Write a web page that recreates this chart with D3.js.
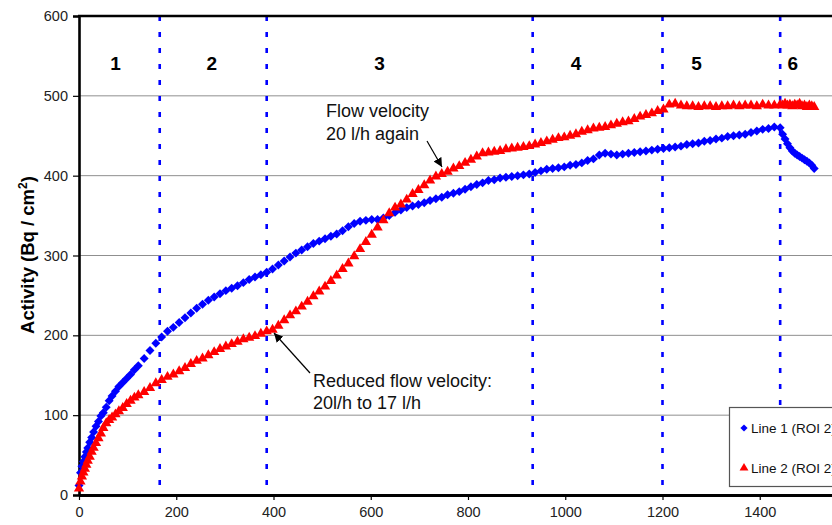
<!DOCTYPE html>
<html><head><meta charset="utf-8">
<script src="https://cdn.jsdelivr.net/npm/d3@7"></script>
<style>body{margin:0;background:#fff;}svg{display:block;font-family:"Liberation Sans",Arial,sans-serif;}</style>
</head><body>
<svg id="c" width="832" height="525"></svg>
<script>
const times = [0,3,6,9,12,15,18,22,26,30,35,40,45,50,56,62,68,75,82,90,98,106,114,122,
134,146,158,170,182,194,206,218,230,242,254,266,278,290,302,314,326,338,350,362,374,386,398,410,422,434,446,458,470,482,494,506,518,530,542,554,566,578,590,602,614,626,638,650,662,674,686,698,710,722,734,746,758,770,782,794,806,818,830,842,854,866,878,890,902,914,926,938,950,962,974,986,998,1010,1022,1034,1046,1058,1070,1082,1094,1106,1118,1130,1142,1154,1166,1178,1190,1202,1214,1226,1238,1250,1262,1274,1286,1298,1310,1322,1334,1346,1358,1370,1382,1394,1406,1418,1430,1442,
1447,1452,1457,1462,1467,1472,1477,1482,1487,1492,1497,1502,1507,1512];
const line1 = [12,28,36,42,48,54,59,66,72,79,86,92,99,103,110,118,124,130,136,141,146,151,157,162,
171,181,190,198,205,210,216,222,228,234,239,244,248,252,256,259,262,266,270,273,276,279,283,288,293,298,303,307,311,315,318,321,324,327,331,336,340,343,344,345,345,347,350,354,357,360,362,364,366,369,371,373,376,378,380,383,386,389,391,394,395,397,398,399,400,401,402,404,406,408,409,410,411,413,414,416,419,421,426,428,427,426,427,428,429,430,431,432,433,434,435,436,437,439,440,441,443,444,446,447,449,450,451,452,454,456,458,459,461,460,
452,446,440,435,431,428,426,424,422,420,418,416,413,409];
const line2 = [8,17,23,28,33,38,43,48,54,59,65,71,77,84,90,94,97,101,105,109,114,118,122,125,
129,134,140,144,148,151,155,159,164,168,171,175,179,183,186,189,192,195,197,199,202,205,207,212,219,225,230,236,242,249,255,261,268,275,283,290,299,308,317,326,335,344,353,360,364,370,377,382,388,394,399,402,405,409,412,416,420,424,428,429,430,431,433,434,435,436,437,439,441,443,445,447,448,450,452,455,457,459,460,461,463,465,467,468,471,474,476,478,481,483,489,490,488,487,487,486,487,487,486,487,487,488,487,488,488,487,489,488,488,489,
488,490,488,489,487,489,488,490,487,488,486,488,487,486];
const yTicks = [0,100,200,300,400,500,600];
const xTicks = [0,200,400,600,800,1000,1200,1400];
const phaseBounds = [166,386,933,1200,1442];
const phaseLabels = [{n:"1",t:75},{n:"2",t:273},{n:"3",t:618},{n:"4",t:1022},{n:"5",t:1270},{n:"6",t:1468}];
const seriesNames = ["Line 1 (ROI 2)","Line 2 (ROI 2)"];

const svg = d3.select("#c");
const x = d3.scaleLinear().domain([0,1600]).range([79,857]);
const y = d3.scaleLinear().domain([0,600]).range([495,16]);

svg.append("g").selectAll("line").data(yTicks.filter(v=>v>0&&v<600)).join("line")
  .attr("x1",79).attr("x2",832).attr("y1",d=>y(d)).attr("y2",d=>y(d))
  .attr("stroke","#8f8f8f").attr("stroke-width",1);

svg.append("g").selectAll("line").data(phaseBounds).join("line")
  .attr("x1",d=>x(d)).attr("x2",d=>x(d)).attr("y1",y(600)).attr("y2",y(0))
  .attr("stroke","#0000ff").attr("stroke-width",2.6).attr("stroke-dasharray","5,11");

svg.append("g").selectAll("text").data(phaseLabels).join("text")
  .attr("x",d=>x(d.t)).attr("y",70).attr("text-anchor","middle")
  .attr("font-weight","bold").attr("font-size",19).text(d=>d.n);

const yAxis = d3.axisLeft(y).tickValues(yTicks).tickSize(6).tickPadding(5).tickFormat(d3.format("d"));
const gy = svg.append("g").attr("transform","translate(79,0)").call(yAxis);
gy.select(".domain").attr("stroke","#000").attr("stroke-width",2.6);
gy.selectAll(".tick line").attr("stroke","#000").attr("stroke-width",1.2);
gy.selectAll("text").attr("font-size",14.5).attr("fill","#222").attr("font-family","Liberation Sans, Arial");

const xAxis = d3.axisBottom(x).tickValues(xTicks).tickSize(5).tickPadding(7).tickSizeOuter(0).tickFormat(d3.format("d"));
const gx = svg.append("g").attr("transform","translate(0,495)").call(xAxis);
gx.select(".domain").attr("stroke","#000").attr("stroke-width",3);
gx.selectAll(".tick line").attr("stroke","#000").attr("stroke-width",1.2);
gx.selectAll("text").attr("font-size",14.5).attr("fill","#222").attr("font-family","Liberation Sans, Arial");

svg.append("line").attr("x1",78).attr("x2",832).attr("y1",y(600)).attr("y2",y(600))
  .attr("stroke","#000").attr("stroke-width",2.6);

svg.append("text").attr("transform","translate(34,255) rotate(-90)")
  .attr("text-anchor","middle").attr("font-weight","bold").attr("font-size",18.5)
  .html('Activity (Bq / cm<tspan baseline-shift="super" font-size="12">2</tspan>)');

const diamond = d3.symbol().type(d3.symbolSquare).size(40);
const tri = d3.symbol().type(d3.symbolTriangle).size(46);
const d1 = times.map((t,i)=>[t,line1[i]]);
const d2 = times.map((t,i)=>[t,line2[i]]);
svg.append("g").selectAll("path").data(d1).join("path")
  .attr("d",diamond).attr("fill","#0000ff")
  .attr("transform",d=>`translate(${x(d[0])},${y(d[1])}) rotate(45)`);
svg.append("g").selectAll("path").data(d2).join("path")
  .attr("d",tri).attr("fill","#ff0000")
  .attr("transform",d=>`translate(${x(d[0])},${y(d[1])})`);

svg.append("defs").append("marker").attr("id","ah").attr("viewBox","0 0 10 10")
  .attr("refX",10).attr("refY",5).attr("markerWidth",9).attr("markerHeight",9)
  .attr("orient","auto-start-reverse").attr("markerUnits","userSpaceOnUse")
  .append("path").attr("d","M0,0 L10,5 L0,10 z").attr("fill","#000");
const ann = svg.append("g").attr("font-size",18).attr("fill","#111");
ann.append("text").attr("x",326).attr("y",117).text("Flow velocity");
ann.append("text").attr("x",326).attr("y",140).text("20 l/h again");
ann.append("text").attr("x",313).attr("y",387).text("Reduced flow velocity:");
ann.append("text").attr("x",313).attr("y",409).text("20l/h to 17 l/h");
svg.append("line").attr("x1",427).attr("y1",141).attr("x2",442).attr("y2",167)
  .attr("stroke","#000").attr("stroke-width",1.2).attr("marker-end","url(#ah)");
svg.append("line").attr("x1",310).attr("y1",373).attr("x2",274).attr("y2",333)
  .attr("stroke","#000").attr("stroke-width",1.2).attr("marker-end","url(#ah)");

const lg = svg.append("g");
lg.append("rect").attr("x",729.5).attr("y",407.5).attr("width",140).attr("height",79)
  .attr("fill","#fff").attr("stroke","#555").attr("stroke-width",1.2);
lg.append("path").attr("d",d3.symbol().type(d3.symbolSquare).size(26))
  .attr("fill","#0000ff").attr("transform","translate(744,428) rotate(45)");
lg.append("path").attr("d",d3.symbol().type(d3.symbolTriangle).size(34))
  .attr("fill","#ff0000").attr("transform","translate(744,468)");
lg.selectAll("text").data(seriesNames).join("text")
  .attr("x",751).attr("y",(d,i)=>433+i*40).attr("font-size",13.5).attr("fill","#111").text(d=>d);
</script>
</body></html>
